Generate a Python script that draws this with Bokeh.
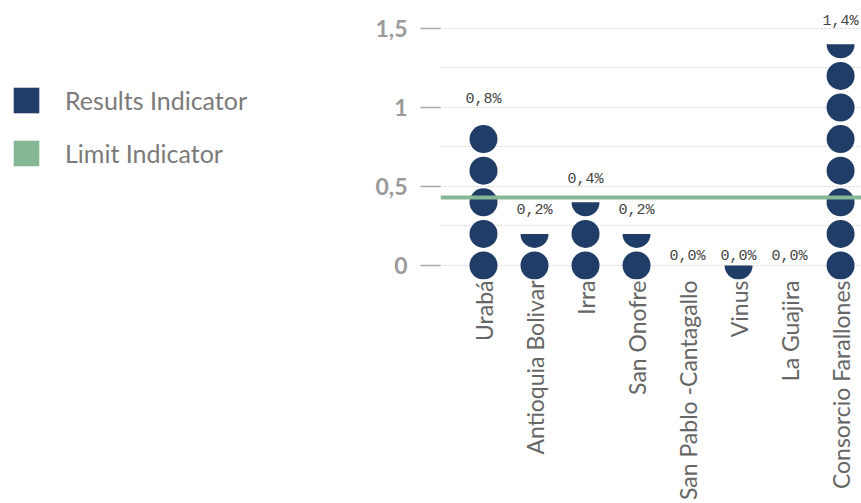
import math
from bokeh.plotting import figure
from bokeh.models import (FixedTicker, Span, Legend, LegendItem, ColumnDataSource)
from bokeh.layouts import row
from bokeh.core.properties import value
from bokeh.embed import file_html
from bokeh.resources import INLINE

# ---- data ----
categories = ["Urabá", "Antioquia Bolivar", "Irra", "San Onofre",
              "San Pablo -Cantagallo", "Vinus", "La Guajira", "Consorcio Farallones"]
values = [0.8, 0.2, 0.4, 0.2, 0.0, 0.0, 0.0, 1.4]
# number of dots drawn per column (0.5 = a half dot)
dot_units = [5, 1.5, 2.5, 1.5, 0, 0.5, 0, 7.5]
dot_step = 0.2
limit_value = 0.43
y_ticks = [0, 0.5, 1, 1.5]
grid_ticks = [0, 0.25, 0.5, 0.75, 1, 1.25, 1.5]

NAVY = "#1f3d66"
GREEN = "#86b896"

# ---- build dot positions from data ----
full_x, full_y, half_x, half_y = [], [], [], []
lab_x, lab_y, lab_off, lab_txt = [], [], [], []
for k, (u, v) in enumerate(zip(dot_units, values)):
    n_full = int(u)
    has_half = (u - n_full) > 0
    for i in range(n_full):
        full_x.append(k)
        full_y.append(dot_step * i)
    if has_half:
        half_x.append(k)
        half_y.append(dot_step * n_full)
    lab_x.append(k)
    lab_txt.append(f"{v:.1f}".replace(".", ",") + "%")
    if v == 0:
        lab_y.append(0.0)
        lab_off.append(-9)
    elif has_half:
        lab_y.append(dot_step * n_full)
        lab_off.append(-23)
    else:
        lab_y.append(dot_step * (n_full - 1))
        lab_off.append(-40)

# ---- main chart ----
p = figure(width=501, height=503, output_backend="svg", toolbar_location=None,
           x_range=(-0.843, 7.41), y_range=(-0.0886, 1.677),
           min_border_left=80, min_border_right=0, min_border_top=0,
           min_border_bottom=224)
p.outline_line_color = None
p.xgrid.visible = False
p.ygrid.ticker = FixedTicker(ticks=grid_ticks)
p.ygrid.grid_line_color = "#d4d4d4"
p.ygrid.grid_line_dash = "2 2"
p.ygrid.grid_line_width = 1

ya = p.yaxis[0]
ya.ticker = FixedTicker(ticks=y_ticks)
ya.major_label_overrides = {t: f"{t:g}".replace(".", ",") for t in y_ticks}
ya.axis_line_color = None
ya.major_tick_in = 0
ya.major_tick_out = 20
ya.major_tick_line_color = "#a8a8a8"
ya.major_tick_line_width = 1.5
ya.minor_tick_line_color = None
ya.major_label_standoff = 13
ya.major_label_text_font = "Lato"
ya.major_label_text_font_style = "bold"
ya.major_label_text_font_size = "23px"
ya.major_label_text_color = "#9b9b9b"

xa = p.xaxis[0]
xa.ticker = FixedTicker(ticks=list(range(len(categories))))
xa.major_label_overrides = {i: c for i, c in enumerate(categories)}
xa.major_label_orientation = math.pi / 2
xa.axis_line_color = None
xa.major_tick_line_color = None
xa.minor_tick_line_color = None
xa.major_tick_in = 0
xa.major_tick_out = 0
xa.major_label_standoff = 1
xa.major_label_text_font = "Lato"
xa.major_label_text_font_size = "23px"
xa.major_label_text_color = "#666666"

p.scatter(full_x, full_y, size=28, marker="circle", fill_color=NAVY, line_color=None)
p.wedge(half_x, half_y, radius=14, radius_units="screen",
        start_angle=math.pi, end_angle=2 * math.pi, fill_color=NAVY, line_color=None)

p.add_layout(Span(location=limit_value, dimension="width", line_color=GREEN, line_width=4))

src = ColumnDataSource(dict(x=lab_x, y=lab_y, off=lab_off, t=lab_txt))
p.text("x", "y", text="t", y_offset="off", source=src, text_align="center",
       text_baseline="middle", text_font=value("Liberation Mono"),
       text_font_size="15px", text_color="#444444")

# ---- legend panel ----
nan = float("nan")
lg = figure(width=360, height=503, output_backend="svg", toolbar_location=None,
            x_range=(0, 360), y_range=(0, 503),
            min_border_left=0, min_border_right=0, min_border_bottom=224,
            min_border_top=0)
lg.outline_line_color = None
lg.axis.visible = False
lg.grid.visible = False
r1 = lg.quad(left=[nan], right=[nan], top=[nan], bottom=[nan], fill_color=NAVY, line_color=None)
r2 = lg.quad(left=[nan], right=[nan], top=[nan], bottom=[nan], fill_color=GREEN, line_color=None)
legend = Legend(items=[LegendItem(label="Results Indicator", renderers=[r1]),
                       LegendItem(label="Limit Indicator", renderers=[r2])],
                location=(10, 110), orientation="vertical")
legend.glyph_width = 32
legend.glyph_height = 32
legend.spacing = 21
legend.padding = 0
legend.margin = 0
legend.label_standoff = 23
legend.label_text_font = "Lato"
legend.label_text_font_size = "25px"
legend.label_text_color = "#7a7a7a"
legend.border_line_color = None
legend.background_fill_alpha = 0
lg.add_layout(legend)

layout = row(lg, p)
open("out.html", "w").write(file_html(layout, INLINE))
